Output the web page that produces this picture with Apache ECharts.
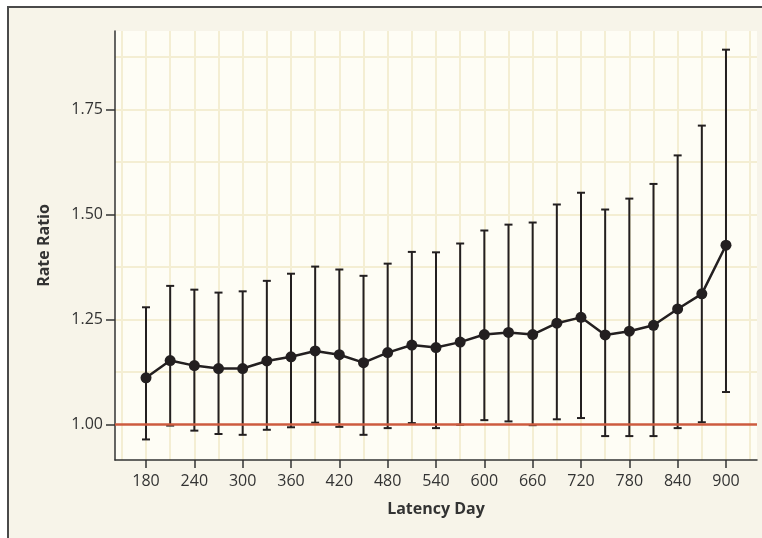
<!DOCTYPE html>
<html>
<head>
<meta charset="utf-8">
<title>Rate Ratio by Latency Day</title>
<script src="https://cdn.jsdelivr.net/npm/echarts@6/dist/echarts.min.js"></script>
<style>
  html, body { margin: 0; padding: 0; background: #fff; }
  .frame {
    position: absolute; left: 7px; top: 6px; width: 755px; height: 532px;
    background: #F7F4E9;
    border-top: 2px solid #4a4a4a;
    border-left: 2px solid #4a4a4a;
  }
  #chart { position: absolute; left: 0; top: 0; width: 762px; height: 538px; }
</style>
</head>
<body>
<div class="frame"></div>
<div id="chart"></div>
<script>
// latency day (x) and rate ratio with 95% CI
const days = [180, 210, 240, 270, 300, 330, 360, 390, 420, 450, 480, 510, 540,
  570, 600, 630, 660, 690, 720, 750, 780, 810, 840, 870, 900]
const rateRatio = [1.111, 1.152, 1.140, 1.133, 1.133, 1.151, 1.161, 1.175, 1.166, 1.147,
  1.171, 1.189, 1.183, 1.196, 1.214, 1.219, 1.214, 1.241, 1.255, 1.213,
  1.222, 1.236, 1.275, 1.311, 1.427]
const ciLower = [0.964, 0.997, 0.985, 0.977, 0.975, 0.987, 0.993, 1.004, 0.994, 0.975,
  0.991, 1.003, 0.991, 0.999, 1.010, 1.007, 0.998, 1.012, 1.015, 0.972,
  0.972, 0.972, 0.991, 1.005, 1.077]
const ciUpper = [1.279, 1.330, 1.321, 1.314, 1.317, 1.342, 1.359, 1.376, 1.369, 1.354,
  1.383, 1.411, 1.410, 1.431, 1.462, 1.476, 1.481, 1.524, 1.552, 1.512,
  1.538, 1.573, 1.641, 1.712, 1.893]

// tick labels and grid lines
const xTickLabels = [180, 240, 300, 360, 420, 480, 540, 600, 660, 720, 780, 840, 900]
const xGridLines = [150, 180, 210, 240, 270, 300, 330, 360, 390, 420, 450, 480, 510, 540,
  570, 600, 630, 660, 690, 720, 750, 780, 810, 840, 870, 900, 930]
const yTickLabels = [1.00, 1.25, 1.50, 1.75]
const yGridLines = [1.125, 1.25, 1.375, 1.5, 1.625, 1.75, 1.875]
const referenceLine = 1.00

const ink = '#231F20'
const font = '"Open Sans", sans-serif'
const xMin = 141.5
const xMax = 938.5
const yMin = 0.915
const yMax = 1.9375

const chart = echarts.init(document.getElementById('chart'))

chart.setOption({
  animation: false,
  backgroundColor: 'transparent',
  grid: {
    left: 115,
    top: 31,
    right: 5,
    bottom: 78,
    show: true,
    backgroundColor: '#FEFDF5',
    borderWidth: 0,
    outerBoundsMode: 'none'
  },
  xAxis: [{
    type: 'value',
    min: xMin,
    max: xMax,
    name: 'Latency Day',
    nameLocation: 'middle',
    nameGap: 41,
    nameTextStyle: { fontFamily: font, fontWeight: 'bold', fontSize: 16, color: '#333' },
    axisLine: { show: true, onZero: false, lineStyle: { color: '#333', width: 1.5 } },
    axisTick: { show: true, length: 8, customValues: xTickLabels, lineStyle: { color: '#333', width: 1.5 } },
    axisLabel: { customValues: xTickLabels, margin: 13, fontFamily: font, fontSize: 16, color: '#333' },
    splitLine: { show: false }
  }, {
    // only for the vertical grid lines
    type: 'value',
    min: xMin,
    max: xMax,
    position: 'bottom',
    axisLine: { show: false },
    axisTick: { show: false, customValues: xGridLines },
    axisLabel: { show: false, customValues: xGridLines },
    splitLine: { show: true, lineStyle: { color: '#F4EED3', width: 2 } }
  }],
  yAxis: [{
    type: 'value',
    min: yMin,
    max: yMax,
    name: 'Rate Ratio',
    nameLocation: 'middle',
    nameGap: 63,
    nameTextStyle: { fontFamily: font, fontWeight: 'bold', fontSize: 16, color: '#333' },
    axisLine: { show: true, onZero: false, lineStyle: { color: '#333', width: 1.5 } },
    axisTick: { show: true, length: 9, customValues: yTickLabels, lineStyle: { color: '#333', width: 1.5 } },
    axisLabel: {
      customValues: yTickLabels,
      margin: 12,
      fontFamily: font,
      fontSize: 16,
      color: '#333',
      formatter: function (value) {
        return Number(value).toFixed(2)
      }
    },
    splitLine: { show: false }
  }, {
    // only for the horizontal grid lines
    type: 'value',
    min: yMin,
    max: yMax,
    position: 'left',
    axisLine: { show: false },
    axisTick: { show: false, customValues: yGridLines },
    axisLabel: { show: false, customValues: yGridLines },
    splitLine: { show: true, lineStyle: { color: '#F4EED3', width: 2 } }
  }],
  series: [{
    // confidence interval whiskers
    type: 'custom',
    xAxisIndex: 0,
    yAxisIndex: 0,
    z: 3,
    data: days.map((d, i) => [d, ciLower[i], ciUpper[i]]),
    renderItem: function (params, api) {
      const lo = api.coord([api.value(0), api.value(1)])
      const hi = api.coord([api.value(0), api.value(2)])
      const half = 4
      const style = { stroke: ink, lineWidth: 2 }
      return {
        type: 'group',
        children: [
          { type: 'line', shape: { x1: lo[0], y1: lo[1], x2: hi[0], y2: hi[1] }, style: style },
          { type: 'line', shape: { x1: hi[0] - half, y1: hi[1], x2: hi[0] + half, y2: hi[1] }, style: style },
          { type: 'line', shape: { x1: lo[0] - half, y1: lo[1], x2: lo[0] + half, y2: lo[1] }, style: style }
        ]
      }
    }
  }, {
    type: 'line',
    xAxisIndex: 0,
    yAxisIndex: 0,
    z: 4,
    data: days.map((d, i) => [d, rateRatio[i]]),
    symbol: 'circle',
    symbolSize: 11,
    itemStyle: { color: ink },
    lineStyle: { color: ink, width: 2.5 },
    markLine: {
      silent: true,
      symbol: 'none',
      label: { show: false },
      lineStyle: { color: '#CD5B3F', width: 2.5, type: 'solid' },
      data: [{ yAxis: referenceLine }]
    }
  }]
})
</script>
</body>
</html>
